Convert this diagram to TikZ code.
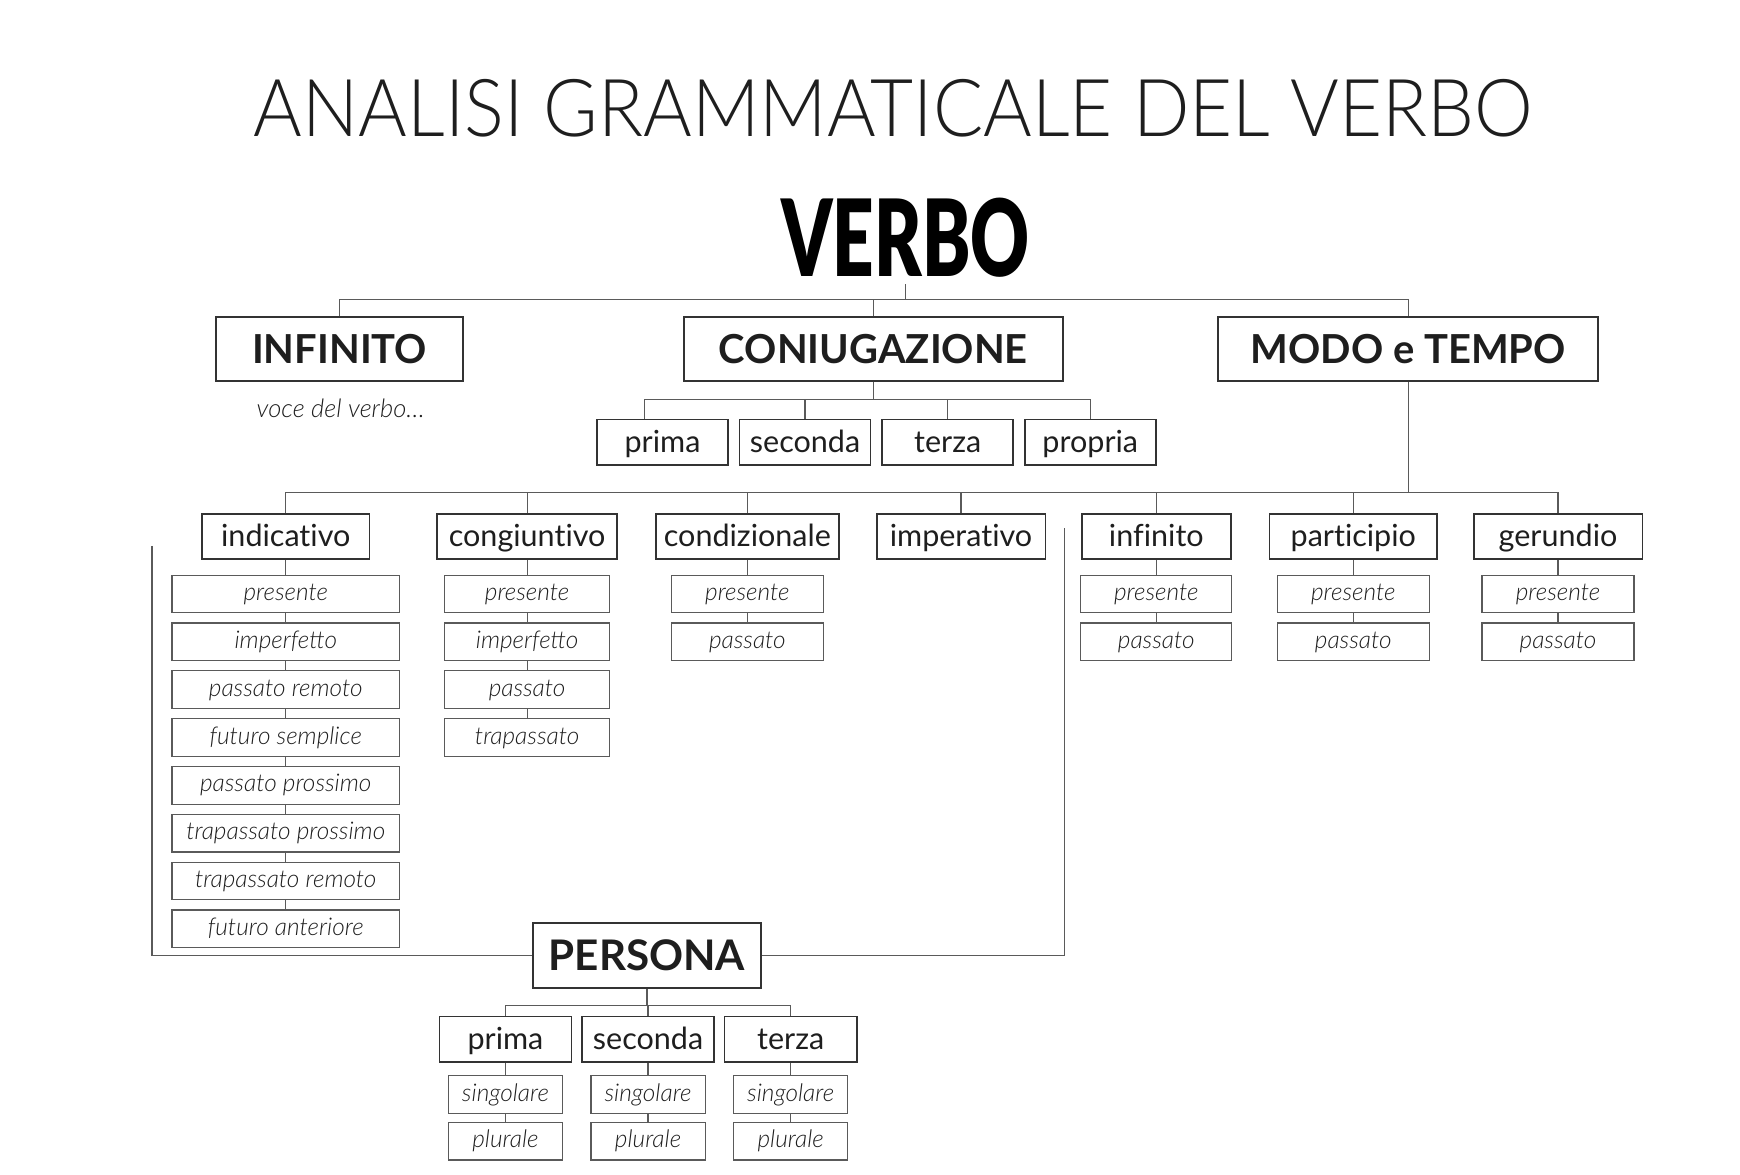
\documentclass[tikz,border=0pt]{standalone}
\usepackage{fontspec}
\setmainfont{Lato}[Ligatures=NoCommon]
\newfontfamily\latolight{Lato Light}
\newfontfamily\latoblack{Lato Black}
\usetikzlibrary{positioning}
\definecolor{inkgray}{HTML}{1E1E1E}
\definecolor{boxgray}{HTML}{333333}
\definecolor{linegray}{HTML}{5A5A5A}

\begin{document}
\begin{tikzpicture}[x=1pt, y=-1pt,
    mainbox/.style={draw=boxgray, line width=1.8pt, rectangle, inner sep=0pt, minimum width=#1, minimum height=57pt, text=inkgray, text height=25.8pt, text depth=0pt, font=\bfseries\fontsize{36}{36}\selectfont},
    midbox/.style={draw=boxgray, line width=1.5pt, rectangle, inner sep=0pt, minimum width=#1, minimum height=41pt, text=inkgray, text height=19pt, text depth=1pt, font=\fontsize{27.5}{27.5}\selectfont},
    subbox/.style={draw=linegray, line width=1.1pt, rectangle, inner sep=0pt, minimum width=#1, minimum height=34pt, text=inkgray, text height=13pt, text depth=1pt, font=\latolight\itshape\fontsize{22}{22}\selectfont},
    conn/.style={draw=linegray, line width=1.1pt}]

    \useasboundingbox (0,0) rectangle (1568,1058.8);

    \node (title) [anchor=base, text=inkgray, font=\latolight\fontsize{72}{72}\selectfont] at (805,123) {\scalebox{0.93}[1]{ANALISI GRAMMATICALE DEL VERBO}};
    \node (verbo) [anchor=base, inner xsep=0pt, inner ysep=6pt, text=black, font=\latoblack\fontsize{96}{96}\selectfont] at (816,249) {\scalebox{0.68}[1]{VERBO}};

    \node (infinito) [mainbox=222pt] at (306,314.5) {INFINITO};
    \node (coniug) [mainbox=342pt] at (787,314.5) {CONIUGAZIONE};
    \node (modo) [mainbox=342pt] at (1269,314.5) {MODO e TEMPO};

    \node (voce) [text=inkgray, font=\latolight\itshape\fontsize{23}{23}\selectfont] at (307,368) {voce del verbo…};

    \node (cprima) [midbox=118pt] at (597,398.5) {prima};
    \node (cseconda) [midbox=118pt, right=9pt of cprima] {seconda};
    \node (cterza) [midbox=118pt, right=9pt of cseconda] {terza};
    \node (cpropria) [midbox=118pt, right=9pt of cterza] {propria};

    \node (indic) [midbox=151pt] at (257.5,483.5) {indicativo};
    \node (congiunt) [midbox=162pt] at (475,483.5) {congiuntivo};
    \node (condiz) [midbox=165pt] at (673.5,483.5) {condizionale};
    \node (imperat) [midbox=152pt] at (866,483.5) {imperativo};
    \node (infin) [midbox=134pt] at (1042,483.5) {infinito};
    \node (partic) [midbox=151pt] at (1219.5,483.5) {participio};
    \node (gerund) [midbox=152pt] at (1404,483.5) {gerundio};

    \node (ind1) [subbox=205pt, below=13pt of indic] {presente};
    \node (ind2) [subbox=205pt, below=8pt of ind1] {imperfetto};
    \node (ind3) [subbox=205pt, below=8pt of ind2] {passato remoto};
    \node (ind4) [subbox=205pt, below=8pt of ind3] {futuro semplice};
    \node (ind5) [subbox=205pt, below=8pt of ind4] {passato prossimo};
    \node (ind6) [subbox=205pt, below=8pt of ind5] {trapassato prossimo};
    \node (ind7) [subbox=205pt, below=8pt of ind6] {trapassato remoto};
    \node (ind8) [subbox=205pt, below=8pt of ind7] {futuro anteriore};

    \node (cong1) [subbox=149pt, below=13pt of congiunt] {presente};
    \node (cong2) [subbox=149pt, below=8pt of cong1] {imperfetto};
    \node (cong3) [subbox=149pt, below=8pt of cong2] {passato};
    \node (cong4) [subbox=149pt, below=8pt of cong3] {trapassato};

    \node (cond1) [subbox=137pt, below=13pt of condiz] {presente};
    \node (cond2) [subbox=137pt, below=8pt of cond1] {passato};

    \node (inf1) [subbox=136pt, below=13pt of infin] {presente};
    \node (inf2) [subbox=136pt, below=8pt of inf1] {passato};

    \node (part1) [subbox=137pt, below=13pt of partic] {presente};
    \node (part2) [subbox=137pt, below=8pt of part1] {passato};

    \node (ger1) [subbox=137pt, below=13pt of gerund] {presente};
    \node (ger2) [subbox=137pt, below=8pt of ger1] {passato};

    \node (persona) [mainbox=206pt, minimum height=58pt, text height=27.2pt, font=\bfseries\fontsize{38}{38}\selectfont] at (583,861) {PERSONA};

    \node (pprima) [midbox=119pt] at (455.5,936.5) {prima};
    \node (pseconda) [midbox=119pt, right=8pt of pprima] {seconda};
    \node (pterza) [midbox=119pt, right=8pt of pseconda] {terza};

    \node (psing1) [subbox=103pt, below=11pt of pprima] {singolare};
    \node (pplur1) [subbox=103pt, below=7pt of psing1] {plurale};
    \node (psing2) [subbox=103pt, below=11pt of pseconda] {singolare};
    \node (pplur2) [subbox=103pt, below=7pt of psing2] {plurale};
    \node (psing3) [subbox=103pt, below=11pt of pterza] {singolare};
    \node (pplur3) [subbox=103pt, below=7pt of psing3] {plurale};

    \coordinate (vbus) at (816,270);
    \draw[conn] (verbo.south) -- (vbus);
    \draw[conn] (infinito.north) |- (vbus) -| (modo.north);
    \draw[conn] (coniug.north) -- (coniug.north |- vbus);

    \coordinate (cbus) at (787,360);
    \draw[conn] (coniug.south) -- (cbus);
    \draw[conn] ([xshift=-16pt]cprima.north) |- (cbus) -| (cpropria.north);
    \draw[conn] (cseconda.north) -- (cseconda.north |- cbus);
    \draw[conn] (cterza.north) -- (cterza.north |- cbus);

    \coordinate (mbus) at (1269,444);
    \draw[conn] (modo.south) -- (mbus);
    \draw[conn] (indic.north) |- (mbus) -| (gerund.north);
    \draw[conn] (congiunt.north) -- (congiunt.north |- mbus);
    \draw[conn] (condiz.north) -- (condiz.north |- mbus);
    \draw[conn] (imperat.north) -- (imperat.north |- mbus);
    \draw[conn] (infin.north) -- (infin.north |- mbus);
    \draw[conn] (partic.north) -- (partic.north |- mbus);

    \draw[conn] (indic) -- (ind1) -- (ind2) -- (ind3) -- (ind4) -- (ind5) -- (ind6) -- (ind7) -- (ind8);
    \draw[conn] (congiunt) -- (cong1) -- (cong2) -- (cong3) -- (cong4);
    \draw[conn] (condiz) -- (cond1) -- (cond2);
    \draw[conn] (infin) -- (inf1) -- (inf2);
    \draw[conn] (partic) -- (part1) -- (part2);
    \draw[conn] (gerund) -- (ger1) -- (ger2);

    \coordinate (pleft) at (137,492);
    \coordinate (pright) at (959,476);
    \draw[conn] (pleft) |- (persona.west);
    \draw[conn] (persona.east) -| (pright);

    \coordinate (pbus) at (583,906);
    \draw[conn] (persona.south) -- (pbus);
    \draw[conn] (pprima.north) |- (pbus) -| (pterza.north);
    \draw[conn] (pseconda.north) -- (pseconda.north |- pbus);

    \draw[conn] (pprima) -- (psing1) -- (pplur1);
    \draw[conn] (pseconda) -- (psing2) -- (pplur2);
    \draw[conn] (pterza) -- (psing3) -- (pplur3);
\end{tikzpicture}
\end{document}
